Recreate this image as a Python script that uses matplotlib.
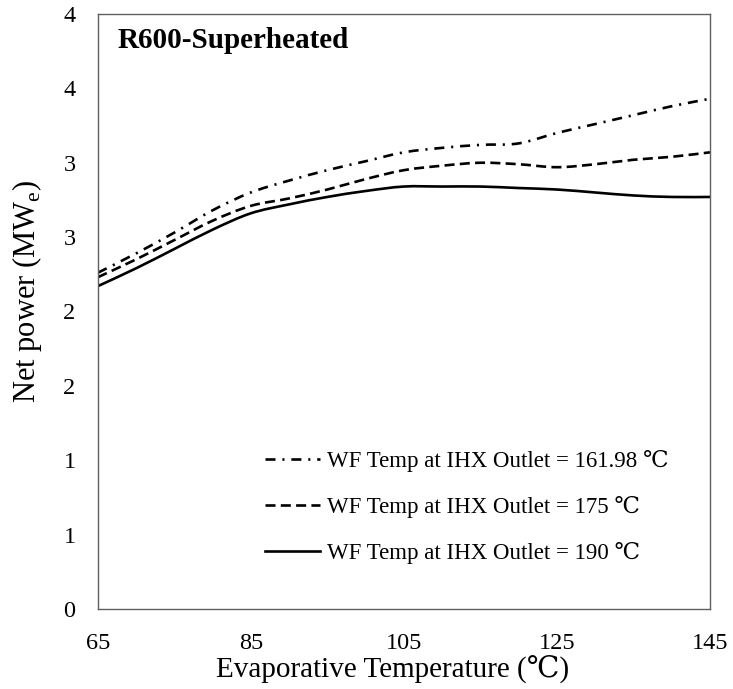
import numpy as np
import matplotlib
matplotlib.use("Agg")
import matplotlib.pyplot as plt
from matplotlib.path import Path
from matplotlib.patches import PathPatch
from matplotlib.lines import Line2D

# evaporative temperature (degC)
temps = [65, 70, 75, 80, 85, 90, 95, 100, 105, 110, 115, 120, 125, 130, 135, 140, 145]

# net power (MWe) for each IHX outlet temperature
power_16198 = [2.26, 2.39, 2.53, 2.68, 2.80, 2.88, 2.95, 3.01, 3.07, 3.10, 3.12, 3.13, 3.20, 3.26, 3.32, 3.38, 3.43]
power_175 = [2.23, 2.35, 2.48, 2.61, 2.71, 2.76, 2.82, 2.89, 2.95, 2.98, 3.00, 2.99, 2.97, 2.99, 3.02, 3.04, 3.07]
power_190 = [2.17, 2.29, 2.42, 2.55, 2.66, 2.72, 2.77, 2.81, 2.84, 2.84, 2.84, 2.83, 2.82, 2.80, 2.78, 2.77, 2.77]

labels = ['WF Temp at IHX Outlet = 161.98 \u2103',
          'WF Temp at IHX Outlet = 175 \u2103',
          'WF Temp at IHX Outlet = 190 \u2103']

yticks = [0, 0.5, 1, 1.5, 2, 2.5, 3, 3.5, 4]
ytick_labels = ['0', '1', '1', '2', '2', '3', '3', '4', '4']
xticks = [65, 85, 105, 125, 145]


def smooth_path(xs, ys):
    """Excel-style smoothed line: cubic bezier through the points."""
    pts = np.column_stack([xs, ys]).astype(float)
    n = len(pts)
    verts = [pts[0]]
    codes = [Path.MOVETO]
    for i in range(n - 1):
        p0 = pts[i - 1] if i > 0 else pts[i]
        p1 = pts[i]
        p2 = pts[i + 1]
        p3 = pts[i + 2] if i + 2 < n else pts[i + 1]
        verts += [p1 + (p2 - p0) / 6, p2 - (p3 - p1) / 6, p2]
        codes += [Path.CURVE4] * 3
    return Path(verts, codes)


plt.rcParams['font.family'] = ['Liberation Serif', 'DejaVu Serif']
plt.rcParams['mathtext.fontset'] = 'custom'
plt.rcParams['mathtext.rm'] = 'Liberation Serif'

fig = plt.figure(figsize=(7.33, 6.89), dpi=100)
ax = fig.add_axes([0.1333, 0.1161, 0.8353, 0.8636])

lw = 1.9
styles = [(0, (3.8, 2.6, 0.8, 2.6)), (0, (3.8, 2.0)), '-']
series = [power_16198, power_175, power_190]
handles = []
for vals, ls, lab in zip(series, styles, labels):
    ax.add_patch(PathPatch(smooth_path(temps, vals), fill=False, ec='black', lw=lw,
                           linestyle=ls, capstyle='butt'))
    handles.append(Line2D([], [], color='black', lw=lw, linestyle=ls, label=lab))

ax.set_xlim(65, 145)
ax.set_ylim(0, 4)
ax.set_xticks(xticks)
ax.set_yticks(yticks)
ax.set_yticklabels(ytick_labels)
ax.tick_params(length=0, labelsize=17.5)
ax.tick_params(axis='y', pad=16)
ax.tick_params(axis='x', pad=17)

for s in ax.spines.values():
    s.set_color('#606060')
    s.set_linewidth(1.0)

ax.set_xlabel('Evaporative Temperature (\u2103)', fontsize=21)
ax.set_ylabel('Net power (MW$_\\mathregular{e}$)', fontsize=22)
ax.xaxis.set_label_coords(0.482, -0.078)
ax.yaxis.set_label_coords(-0.088, 0.533)

ax.text(0.032, 0.943, 'R600-Superheated', transform=ax.transAxes,
        fontsize=21, fontweight='bold', va='baseline', ha='left')

ax.legend(handles=handles, loc='lower left', bbox_to_anchor=(0.273, 0.075), frameon=False,
          fontsize=16.5, handlelength=2.4, handletextpad=0.3, labelspacing=1.05,
          borderpad=0, borderaxespad=0)

fig.savefig('out.png', dpi=100)
